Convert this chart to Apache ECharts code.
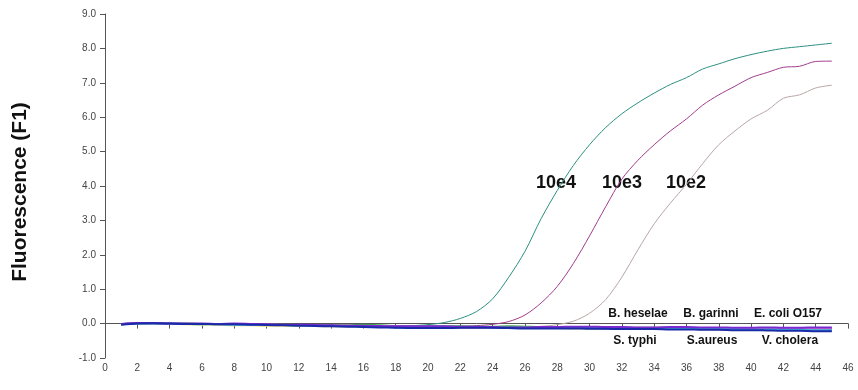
<!DOCTYPE html>
<html>
<head>
<meta charset="utf-8">
<script src="https://cdn.jsdelivr.net/npm/echarts@6/dist/echarts.min.js"></script>
<style>
  html, body { margin: 0; padding: 0; background: #fff; }
  #chart { width: 858px; height: 390px; }
</style>
</head>
<body>
<div id="chart"></div>
<script>
// cycle numbers (x)
const cycles = [1,2,3,4,5,6,7,8,9,10,11,12,13,14,15,16,17,18,19,20,21,22,23,24,25,26,27,28,29,30,31,32,33,34,35,36,37,38,39,40,41,42,43,44,45];

// positive dilutions
const e4 = [-0.02,0.01,0.01,0.0,0.0,-0.01,-0.01,-0.02,-0.02,-0.03,-0.04,-0.05,-0.05,-0.06,-0.06,-0.07,-0.07,-0.07,-0.06,-0.03,0.03,0.15,0.35,0.72,1.35,2.1,3.05,3.87,4.6,5.2,5.7,6.1,6.42,6.7,6.95,7.15,7.4,7.55,7.7,7.82,7.92,8.0,8.05,8.1,8.15];
const e3 = [-0.02,0.01,0.01,0.0,0.0,-0.01,-0.01,-0.02,-0.02,-0.03,-0.04,-0.05,-0.05,-0.06,-0.06,-0.07,-0.08,-0.08,-0.09,-0.09,-0.09,-0.08,-0.06,-0.02,0.06,0.25,0.6,1.08,1.75,2.55,3.4,4.2,4.75,5.2,5.6,5.95,6.35,6.65,6.9,7.15,7.3,7.45,7.48,7.62,7.63];
const e2 = [-0.02,0.01,0.01,0.0,0.0,-0.01,-0.01,-0.02,-0.02,-0.03,-0.04,-0.05,-0.05,-0.06,-0.06,-0.07,-0.08,-0.08,-0.09,-0.09,-0.1,-0.1,-0.1,-0.1,-0.1,-0.1,-0.08,-0.03,0.07,0.3,0.7,1.35,2.15,2.9,3.5,4.05,4.65,5.2,5.6,5.95,6.2,6.55,6.65,6.85,6.93];

// negative controls
const negBlue = [-0.03,0.0,0.01,0.0,-0.01,-0.01,-0.02,-0.02,-0.03,-0.04,-0.05,-0.06,-0.07,-0.08,-0.09,-0.1,-0.11,-0.12,-0.13,-0.13,-0.13,-0.12,-0.12,-0.12,-0.13,-0.14,-0.14,-0.14,-0.14,-0.15,-0.15,-0.16,-0.16,-0.16,-0.17,-0.17,-0.18,-0.18,-0.19,-0.19,-0.2,-0.21,-0.21,-0.22,-0.22];
const negPurple = [-0.01,0.02,0.02,0.0,0.0,0.0,-0.01,0.0,-0.01,-0.02,-0.03,-0.03,-0.04,-0.05,-0.06,-0.06,-0.07,-0.08,-0.08,-0.08,-0.08,-0.09,-0.09,-0.1,-0.11,-0.11,-0.1,-0.1,-0.09,-0.09,-0.1,-0.1,-0.11,-0.11,-0.1,-0.1,-0.11,-0.11,-0.12,-0.12,-0.11,-0.12,-0.12,-0.11,-0.11];
const negCyan = [-0.02,0.0,0.0,0.0,-0.01,-0.02,-0.02,-0.03,-0.03,-0.04,-0.04,-0.05,-0.06,-0.07,-0.07,-0.08,-0.09,-0.11,-0.12,-0.11,-0.1,-0.1,-0.1,-0.11,-0.12,-0.12,-0.12,-0.13,-0.13,-0.13,-0.14,-0.14,-0.14,-0.13,-0.14,-0.15,-0.15,-0.16,-0.16,-0.17,-0.17,-0.18,-0.18,-0.19,-0.19];
const negGreen = [-0.02,0.01,0.01,0.0,0.0,-0.01,-0.01,-0.01,-0.02,-0.03,-0.03,-0.04,-0.04,-0.05,-0.05,-0.03,-0.05,-0.07,-0.08,-0.08,-0.08,-0.08,-0.09,-0.09,-0.08,-0.09,-0.1,-0.1,-0.11,-0.11,-0.11,-0.12,-0.12,-0.12,-0.12,-0.13,-0.13,-0.13,-0.14,-0.14,-0.14,-0.15,-0.15,-0.15,-0.15];
const negYellow = [-0.02,0.0,0.0,-0.01,-0.02,-0.03,-0.04,-0.05,-0.05,-0.06,-0.06,-0.07,-0.07,-0.08,-0.08,-0.09,-0.09,-0.1,-0.1,-0.11,-0.11,-0.11,-0.12,-0.12,-0.12,-0.13,-0.13,-0.13,-0.14,-0.14,-0.14,-0.15,-0.15,-0.15,-0.16,-0.16,-0.16,-0.17,-0.17,-0.17,-0.18,-0.18,-0.18,-0.18,-0.18];
const negPink = [-0.02,0.01,0.0,0.0,-0.01,-0.01,-0.02,-0.02,-0.03,-0.03,-0.04,-0.04,-0.05,-0.06,-0.06,-0.07,-0.08,-0.08,-0.09,-0.09,-0.1,-0.11,-0.11,-0.12,-0.13,-0.13,-0.13,-0.12,-0.12,-0.12,-0.12,-0.13,-0.13,-0.13,-0.13,-0.13,-0.14,-0.14,-0.14,-0.14,-0.14,-0.14,-0.15,-0.15,-0.15];

const FONT = "Liberation Sans, Arial, sans-serif";

function pairs(vals) {
    return cycles.map((c, i) => [c, vals[i]]);
}

function line(name, vals, color, width) {
    return {
        name,
        type: "line",
        data: pairs(vals),
        showSymbol: false,
        smooth: 0.3,
        lineStyle: { color, width },
        silent: true,
    };
}

// text labels placed over the plot
function label(text, x, y, size) {
    return {
        type: "text", x, y,
        style: { text, font: "bold " + size + "px " + FONT, fill: "#111", align: "center", verticalAlign: "middle" },
    };
}

const chart = echarts.init(document.getElementById("chart"));
chart.setOption({
    animation: false,
    grid: { left: 105, right: 10, top: 14, bottom: 32 },
    xAxis: {
        type: "value", min: 0, max: 46, interval: 2,
        axisLine: { lineStyle: { color: "#555", width: 1 } },
        axisTick: { length: 5, lineStyle: { color: "#555" } },
        axisLabel: { fontSize: 10, color: "#444", margin: 5, fontFamily: FONT },
        splitLine: { show: false },
    },
    yAxis: {
        type: "value", min: -1, max: 9, interval: 1,
        axisLine: { show: true, lineStyle: { color: "#555", width: 1 } },
        axisTick: { show: true, length: 5, lineStyle: { color: "#555" } },
        axisLabel: { fontSize: 10, color: "#444", margin: 9, fontFamily: FONT, formatter: v => v.toFixed(1) },
        splitLine: { show: false },
    },
    series: [
        line("10e4", e4, "#2b8f7f", 1),
        line("10e3", e3, "#a03c8c", 1),
        line("10e2", e2, "#b8a6a6", 1),
        line("Y", negYellow, "#e6e070", 2),
        line("G", negGreen, "#3fa84a", 2),
        line("P", negPink, "#e070d8", 2),
        line("C", negCyan, "#38b8d8", 2),
        line("U", negPurple, "#7a2ad0", 2),
        line("B", negBlue, "#1a2aa8", 2),
    ],
    graphic: [
        { type: "text", x: 20, y: 192, rotation: Math.PI / 2,
          style: { text: "Fluorescence (F1)", font: "bold 21px " + FONT, fill: "#111", align: "center", verticalAlign: "middle" } },
        label("10e4", 556, 183, 18),
        label("10e3", 622, 183, 18),
        label("10e2", 686, 183, 18),
        label("B. heselae", 638, 314, 12),
        label("B. garinni", 711, 314, 12),
        label("E. coli O157", 788, 314, 12),
        label("S. typhi", 635, 341, 12),
        label("S.aureus", 712, 341, 12),
        label("V. cholera", 790, 341, 12),
    ],
});
</script>
</body>
</html>
